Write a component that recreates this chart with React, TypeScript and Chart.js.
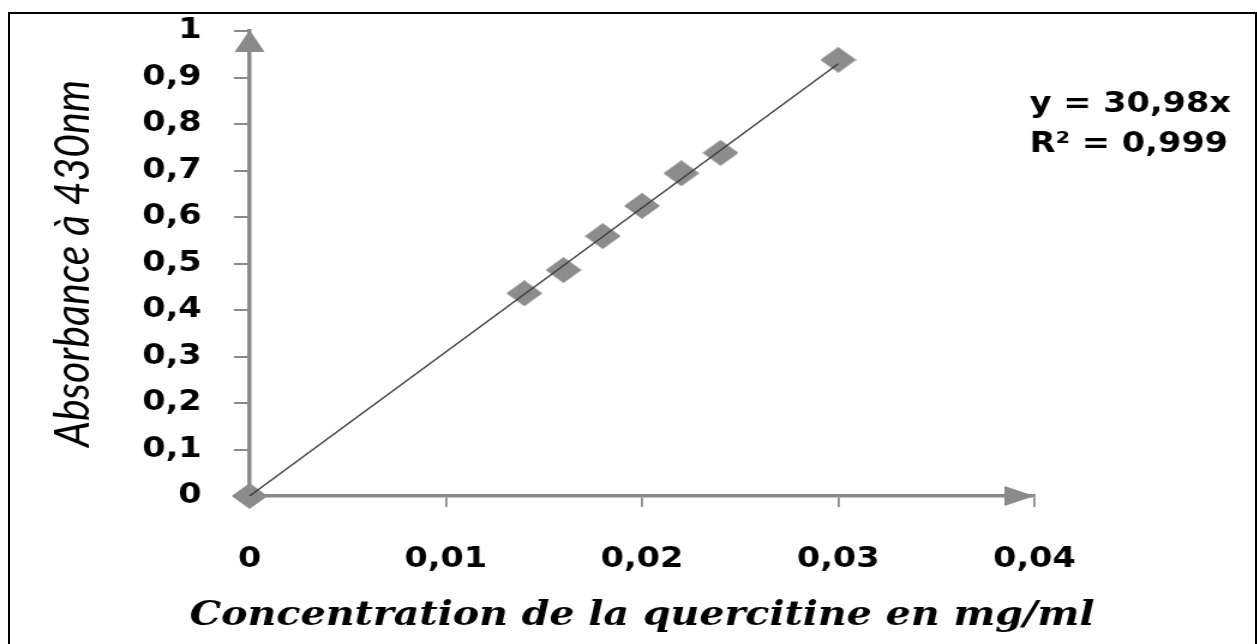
import React, { useEffect, useRef } from 'react';
import { Chart, registerables } from 'chart.js';

Chart.register(...registerables);

// ---- data ----
const concentrations = [0, 0.014, 0.016, 0.018, 0.02, 0.022, 0.024, 0.03];
const absorbances = [0, 0.436, 0.486, 0.559, 0.624, 0.694, 0.738, 0.938];
const trendX = [0, 0.03];
const trendY = [0, 0.9294];
const xRange = [0, 0.04];
const xStep = 0.01;
const yRange = [0, 1];
const yStep = 0.1;
const equationLines = ['y = 30,98x', 'R\u00B2 = 0,999'];
const xTitle = 'Concentration de la quercitine en mg/ml';
const yTitle = 'Absorbance \u00E0 430nm';

// ---- styling ----
const STRETCH = 1.2;
const CANVAS_W = 1048;
const CANVAS_H = 644;
const AXIS_COLOR = '#8a8a8a';
const POINT_COLOR = '#8c8c8c';
const LINE_COLOR = '#3c3c3c';

const fmt = (v: number) => String(parseFloat(Number(v).toFixed(4))).replace('.', ',');

function makeDiamond(w: number, h: number, color: string): HTMLCanvasElement {
  const c = document.createElement('canvas');
  c.width = w;
  c.height = h;
  const g = c.getContext('2d')!;
  g.fillStyle = color;
  g.beginPath();
  g.moveTo(w / 2, 0);
  g.lineTo(w, h / 2);
  g.lineTo(w / 2, h);
  g.lineTo(0, h / 2);
  g.closePath();
  g.fill();
  return c;
}

const overlayPlugin = {
  id: 'overlay',
  afterDraw(chart: any) {
    const { ctx, scales, chartArea } = chart;
    const xs = scales.x;
    const ys = scales.y;
    ctx.save();
    ctx.fillStyle = AXIS_COLOR;
    // y-axis arrow head
    const ax = xs.getPixelForValue(xRange[0]);
    const top = ys.getPixelForValue(yRange[1]);
    ctx.beginPath();
    ctx.moveTo(ax, top - 1);
    ctx.lineTo(ax - 12.5, top + 21);
    ctx.lineTo(ax + 12.5, top + 21);
    ctx.closePath();
    ctx.fill();
    // x-axis arrow head
    const right = xs.getPixelForValue(xRange[1]);
    const ay = ys.getPixelForValue(yRange[0]);
    ctx.beginPath();
    ctx.moveTo(right, ay);
    ctx.lineTo(right - 25, ay - 10);
    ctx.lineTo(right - 25, ay + 10);
    ctx.closePath();
    ctx.fill();
    // trendline equation
    ctx.fillStyle = '#000';
    ctx.font = 'bold 28px "DejaVu Sans"';
    ctx.textBaseline = 'middle';
    ctx.textAlign = 'left';
    equationLines.forEach((t, i) => ctx.fillText(t, 858, 105 + i * 40));
    // x-axis title (wider than the plot area, so drawn here)
    ctx.font = 'italic bold 33px "DejaVu Serif"';
    ctx.textAlign = 'center';
    ctx.fillText(xTitle, (chartArea.left + chartArea.right) / 2, 616);
    ctx.restore();
  },
};

export default function App() {
  const ref = useRef<HTMLCanvasElement | null>(null);

  useEffect(() => {
    if (!ref.current) return;
    const diamond = makeDiamond(30, 26, POINT_COLOR);
    const chart = new Chart(ref.current, {
      type: 'scatter',
      data: {
        datasets: [
          {
            label: 'trend',
            data: trendX.map((x, i) => ({ x, y: trendY[i] })),
            showLine: true,
            borderColor: LINE_COLOR,
            borderWidth: 1.4,
            pointRadius: 0,
            pointHoverRadius: 0,
            fill: false,
            clip: false as any,
          },
          {
            label: 'points',
            data: concentrations.map((x, i) => ({ x, y: absorbances[i] })),
            pointStyle: diamond as any,
            pointRadius: 13,
            backgroundColor: POINT_COLOR,
            borderColor: POINT_COLOR,
            showLine: false,
            clip: false as any,
          },
        ],
      },
      options: {
        animation: false,
        responsive: false,
        devicePixelRatio: 1,
        events: [],
        layout: { padding: { top: 31, right: 186, bottom: 0, left: 0 } },
        plugins: {
          legend: { display: false },
          tooltip: { enabled: false },
        },
        scales: {
          x: {
            type: 'linear',
            min: xRange[0],
            max: xRange[1],
            afterFit: (s: any) => {
              s.height = 148;
              s.paddingLeft = 0;
              s.paddingRight = 0;
            },
            border: { display: true, color: AXIS_COLOR, width: 3.5 },
            grid: {
              display: true,
              drawOnChartArea: false,
              drawTicks: true,
              tickLength: 11,
              color: AXIS_COLOR,
              lineWidth: 1.8,
            },
            ticks: {
              stepSize: xStep,
              padding: 36,
              color: '#000',
              font: { family: '"DejaVu Sans"', weight: 'bold', size: 28 },
              callback: (v: any) => fmt(v),
              maxRotation: 0,
            },
            title: { display: false },
          },
          y: {
            type: 'linear',
            min: yRange[0],
            max: yRange[1],
            afterFit: (s: any) => {
              s.width = 208;
              s.paddingTop = 0;
              s.paddingBottom = 0;
            },
            border: { display: true, color: AXIS_COLOR, width: 3.5 },
            grid: {
              display: true,
              drawOnChartArea: false,
              drawTicks: true,
              tickLength: 13,
              color: AXIS_COLOR,
              lineWidth: 2,
            },
            ticks: {
              stepSize: yStep,
              padding: 27,
              color: '#000',
              font: { family: '"DejaVu Sans"', weight: 'bold', size: 28 },
              callback: (v: any) => fmt(v),
            },
            title: {
              display: true,
              text: yTitle,
              color: '#000',
              font: { family: 'Lato', style: 'italic', size: 41 },
              padding: { top: 36, bottom: 0 },
            },
          },
        },
      },
      plugins: [overlayPlugin],
    });
    return () => chart.destroy();
  }, []);

  return (
    <div
      style={{
        position: 'fixed',
        left: 0,
        top: 0,
        width: 1257,
        height: 644,
        overflow: 'hidden',
        background: '#fff',
      }}
    >
      <div
        style={{
          position: 'absolute',
          left: 8,
          top: 12,
          width: 1249,
          height: 640,
          boxSizing: 'border-box',
          borderLeft: '2px solid #000',
          borderTop: '2px solid #000',
          borderRight: '2px solid #000',
        }}
      />
      <canvas
        ref={ref}
        width={CANVAS_W}
        height={CANVAS_H}
        style={{
          position: 'absolute',
          left: 0,
          top: 0,
          transform: `scaleX(${STRETCH})`,
          transformOrigin: '0 0',
        }}
      />
    </div>
  );
}
